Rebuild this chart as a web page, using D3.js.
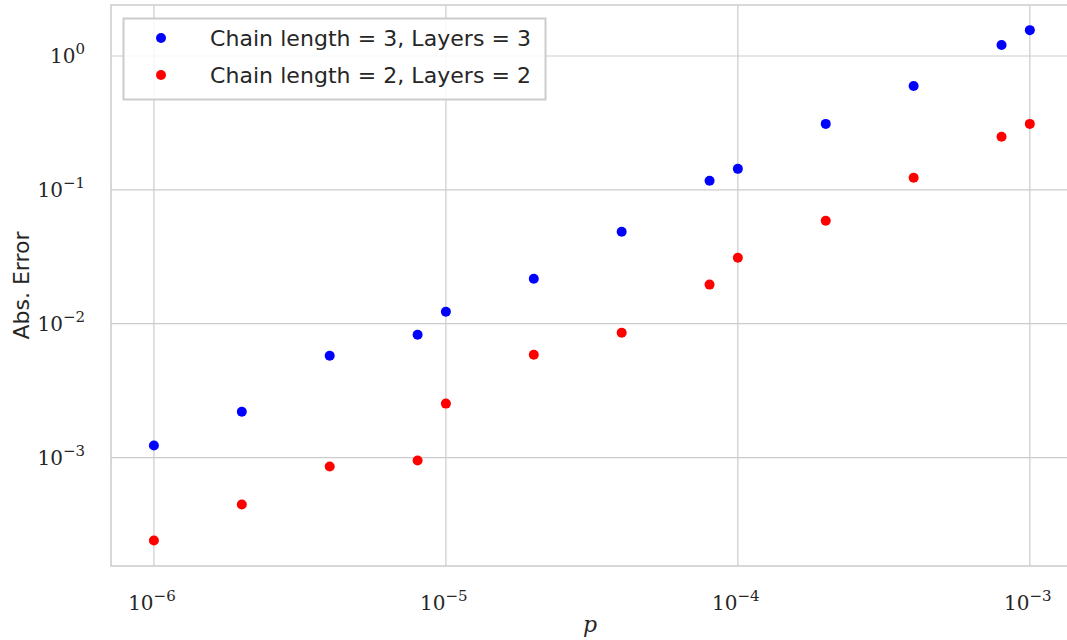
<!DOCTYPE html>
<html>
<head>
<meta charset="utf-8">
<script src="https://cdn.jsdelivr.net/npm/d3@7"></script>
<style>
  body { margin: 0; background: #fff; }
  text { fill: #262626; }
</style>
</head>
<body>
<div id="chart"></div>
<script>
// probabilities p (x axis)
const pValues = [1e-6, 2e-6, 4e-6, 8e-6, 1e-5, 2e-5, 4e-5, 8e-5, 1e-4, 2e-4, 4e-4, 8e-4, 1e-3];
// abs. error for chain length 3, layers 3
const errChain3 = [1.23e-3, 2.2e-3, 5.77e-3, 8.28e-3, 0.0123, 0.0217, 0.0486, 0.117, 0.1435, 0.311, 0.597, 1.21, 1.56];
// abs. error for chain length 2, layers 2
const errChain2 = [2.4e-4, 4.46e-4, 8.57e-4, 9.5e-4, 2.53e-3, 5.87e-3, 8.57e-3, 0.0196, 0.0311, 0.0587, 0.123, 0.249, 0.311];
const seriesNames = ["Chain length = 3, Layers = 3", "Chain length = 2, Layers = 2"];
const seriesColors = ["#0000ff", "#ff0000"];
const xTicks = [1e-6, 1e-5, 1e-4, 1e-3];
const yTicks = [1e-3, 1e-2, 1e-1, 1e0];

const width = 1067;
const height = 640;
const margin = { top: 5, right: -4, bottom: 74, left: 111 };

const svg = d3.select("#chart")
  .append("svg")
  .attr("width", width)
  .attr("height", height);

const x = d3.scaleLog()
  .domain([Math.pow(10, -6.147), Math.pow(10, -2.859)])
  .range([margin.left, width - margin.right]);

const y = d3.scaleLog()
  .domain([Math.pow(10, -3.81), Math.pow(10, 0.381)])
  .range([height - margin.bottom, margin.top]);

const grid = "#cccccc";

// grid lines
svg.append("g").selectAll("line")
  .data(xTicks)
  .join("line")
  .attr("x1", d => x(d)).attr("x2", d => x(d))
  .attr("y1", margin.top).attr("y2", height - margin.bottom)
  .attr("stroke", grid).attr("stroke-width", 1.2);

svg.append("g").selectAll("line")
  .data(yTicks)
  .join("line")
  .attr("x1", margin.left).attr("x2", width - margin.right)
  .attr("y1", d => y(d)).attr("y2", d => y(d))
  .attr("stroke", grid).attr("stroke-width", 1.2);

// frame
svg.append("rect")
  .attr("x", margin.left)
  .attr("y", margin.top)
  .attr("width", width - margin.right - margin.left)
  .attr("height", height - margin.bottom - margin.top)
  .attr("fill", "none")
  .attr("stroke", grid)
  .attr("stroke-width", 1.5);

// tick labels 10^n
function powLabel(sel, d) {
  const e = Math.round(Math.log10(d));
  sel.append("tspan").text("10");
  sel.append("tspan").attr("dy", -9).attr("font-size", 15).text(e === 0 ? "0" : "\u2212" + Math.abs(e));
}

svg.append("g").selectAll("text")
  .data(xTicks)
  .join("text")
  .attr("x", d => x(d) - 2)
  .attr("y", 610)
  .attr("text-anchor", "middle")
  .attr("font-family", "'DejaVu Serif', serif")
  .attr("font-size", 20)
  .each(function(d) { powLabel(d3.select(this), d); });

svg.append("g").selectAll("text")
  .data(yTicks)
  .join("text")
  .attr("x", 85)
  .attr("y", d => y(d) + 7)
  .attr("text-anchor", "end")
  .attr("font-family", "'DejaVu Serif', serif")
  .attr("font-size", 20)
  .each(function(d) { powLabel(d3.select(this), d); });

// axis labels
svg.append("text")
  .attr("x", 590).attr("y", 632)
  .attr("text-anchor", "middle")
  .attr("font-family", "'DejaVu Serif', serif")
  .attr("font-style", "italic")
  .attr("font-size", 22)
  .text("p");

svg.append("text")
  .attr("transform", "translate(29," + (height - margin.bottom + margin.top) / 2 + ") rotate(-90)")
  .attr("text-anchor", "middle")
  .attr("font-family", "'DejaVu Sans', sans-serif")
  .attr("font-size", 22)
  .text("Abs. Error");

// points
const series = [errChain3, errChain2];
series.forEach((vals, i) => {
  svg.append("g").selectAll("circle")
    .data(vals)
    .join("circle")
    .attr("cx", (d, j) => x(pValues[j]))
    .attr("cy", d => y(d))
    .attr("r", 5)
    .attr("fill", seriesColors[i]);
});

// legend
const legend = svg.append("g");
legend.append("rect")
  .attr("x", 123.5).attr("y", 18.5)
  .attr("width", 422).attr("height", 81)
  .attr("fill", "#fff").attr("fill-opacity", 0.85)
  .attr("stroke", "#cccccc").attr("stroke-width", 2);

seriesNames.forEach((name, i) => {
  const ly = 38 + i * 37;
  legend.append("circle")
    .attr("cx", 161).attr("cy", ly).attr("r", 5)
    .attr("fill", seriesColors[i]);
  legend.append("text")
    .attr("x", 210).attr("y", ly + 8)
    .attr("font-family", "'DejaVu Sans', sans-serif")
    .attr("font-size", 22)
    .attr("textLength", 321)
    .text(name);
});
</script>
</body>
</html>
